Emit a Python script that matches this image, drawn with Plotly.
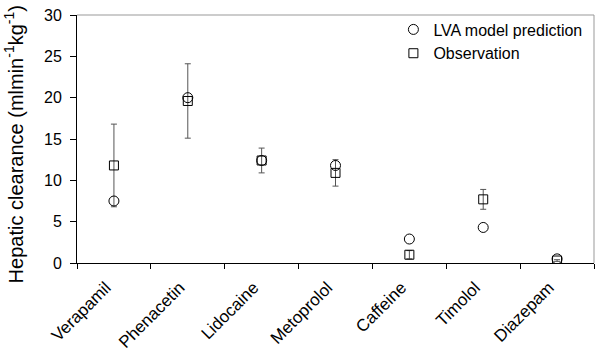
import plotly.graph_objects as go

drugs = ["Verapamil", "Phenacetin", "Lidocaine", "Metoprolol", "Caffeine", "Timolol", "Diazepam"]
lva_prediction = [7.5, 20.0, 12.4, 11.8, 2.9, 4.3, 0.5]
observation = [11.8, 19.6, 12.4, 10.9, 1.0, 7.7, 0.3]
observation_err = [5.0, 4.5, 1.5, 1.6, 0.5, 1.2, 0.1]
y_ticks = [0, 5, 10, 15, 20, 25, 30]

FONT = "Arial, 'Liberation Sans', sans-serif"

fig = go.Figure()
fig.add_trace(go.Scatter(
    x=drugs, y=observation, mode="markers", name="Observation",
    marker=dict(symbol="square-open", size=9, color="black", line=dict(width=1, color="black")),
    error_y=dict(type="data", array=observation_err, visible=True, color="#555555", thickness=1, width=3),
))
fig.add_trace(go.Scatter(
    x=drugs, y=lva_prediction, mode="markers", name="LVA model prediction",
    marker=dict(symbol="circle-open", size=10, color="black", line=dict(width=1, color="black")),
))

fig.update_layout(
    width=595, height=351,
    margin=dict(l=77, r=1, t=15, b=88, autoexpand=False),
    paper_bgcolor="white", plot_bgcolor="white",
    font=dict(family=FONT, size=16, color="black"),
    showlegend=True,
    legend=dict(x=0.612, y=1.01, xanchor="left", yanchor="top", traceorder="reversed",
                bgcolor="rgba(0,0,0,0)", font=dict(size=16), itemwidth=30,
                tracegroupgap=0),
    xaxis=dict(
        type="category", tickangle=-45, tickson="boundaries", ticks="outside", ticklen=5,
        tickcolor="black", showline=True, linecolor="black", linewidth=1,
        showgrid=False, tickfont=dict(size=17), range=[-0.5, 6.5], automargin=False,
        ticklabelstandoff=7, ticklabelshift=-8,
    ),
    yaxis=dict(
        range=[0, 30], tickvals=y_ticks, ticks="outside", ticklen=6, tickcolor="black",
        showline=True, linecolor="black", linewidth=1, showgrid=False, zeroline=False,
        tickfont=dict(size=16), automargin=False, ticklabelstandoff=5,
    ),
)
# y-axis title
fig.add_annotation(
    text="Hepatic clearance (mlmin<sup>-1</sup>kg<sup>-1</sup>)",
    xref="paper", yref="paper", x=-0.121, y=0.48, xanchor="center", yanchor="middle",
    textangle=-90, showarrow=False, font=dict(size=20),
)
# gray top and right border of the plot area
fig.add_shape(type="line", xref="paper", yref="paper", x0=0, x1=1, y0=1, y1=1,
              line=dict(color="#999999", width=1))
fig.add_shape(type="line", xref="paper", yref="paper", x0=1, x1=1, y0=0, y1=1,
              line=dict(color="#999999", width=1))

fig.write_html("out.html", config={"displayModeBar": False},
               post_script="document.body.style.margin='0';")
